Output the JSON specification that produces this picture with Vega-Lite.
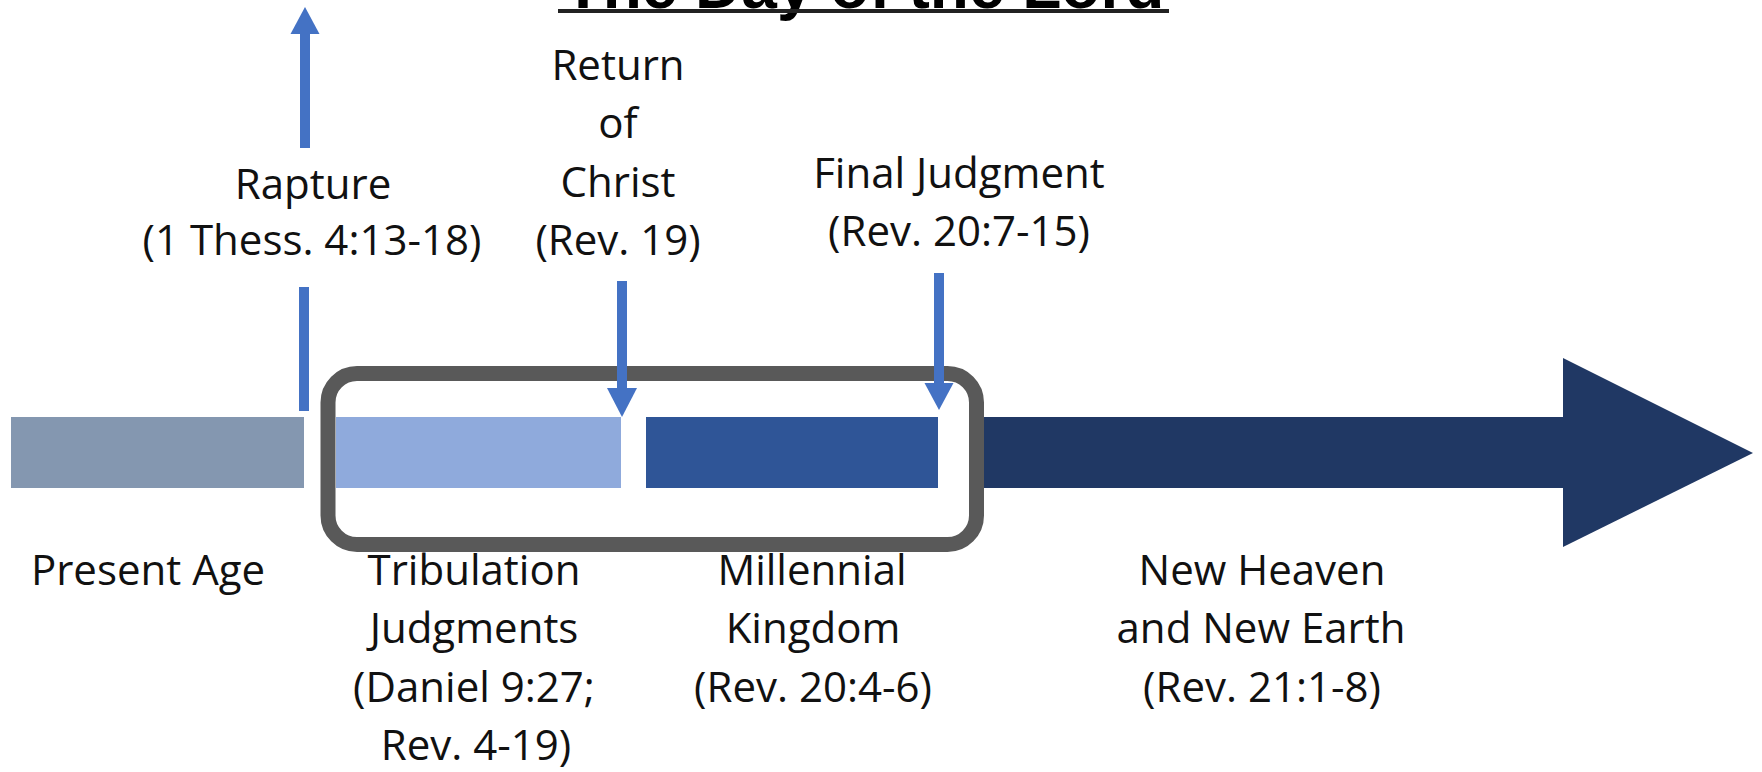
{
  "$schema": "https://vega.github.io/schema/vega-lite/v6.json",
  "width": 1762,
  "height": 772,
  "autosize": {"type": "none"},
  "padding": 0,
  "background": "white",
  "config": {"view": {"stroke": null}},
  "datasets": {
    "segments": [
      {"segment": "Present Age", "start": 11, "end": 304, "top": 417, "bottom": 488},
      {"segment": "Tribulation", "start": 336, "end": 621, "top": 417, "bottom": 488},
      {"segment": "Millennial", "start": 646, "end": 938, "top": 417, "bottom": 488},
      {"segment": "New Heaven", "start": 983, "end": 1564, "top": 417, "bottom": 488}
    ],
    "bighead": [
      {"x": 1563, "top": 358, "bottom": 547},
      {"x": 1753, "top": 453, "bottom": 453}
    ],
    "frame": [
      {"x1": 328, "x2": 976.5, "y1": 373.5, "y2": 544.5}
    ],
    "shafts": [
      {"event": "Rapture", "x": 305, "y1": 33, "y2": 148},
      {"event": "Rapture", "x": 304, "y1": 287, "y2": 411},
      {"event": "Return", "x": 622, "y1": 281, "y2": 390},
      {"event": "Final", "x": 939, "y1": 273, "y2": 385}
    ],
    "heads": [
      {"event": "Rapture", "y": 7, "left": 305, "right": 305},
      {"event": "Rapture", "y": 34, "left": 290.5, "right": 319.5},
      {"event": "Return", "y": 388, "left": 607, "right": 637},
      {"event": "Return", "y": 417, "left": 622, "right": 622},
      {"event": "Final", "y": 383, "left": 924.5, "right": 953.5},
      {"event": "Final", "y": 410, "left": 939, "right": 939}
    ],
    "labels": [
      {"text": "Rapture", "x": 313, "y": 199},
      {"text": "(1 Thess. 4:13-18)", "x": 312, "y": 255},
      {"text": "Return", "x": 618, "y": 80},
      {"text": "of", "x": 618, "y": 138},
      {"text": "Christ", "x": 618, "y": 197},
      {"text": "(Rev. 19)", "x": 618, "y": 255},
      {"text": "Final Judgment", "x": 959, "y": 188},
      {"text": "(Rev. 20:7-15)", "x": 959, "y": 246},
      {"text": "Present Age", "x": 148, "y": 585},
      {"text": "Tribulation", "x": 474, "y": 585},
      {"text": "Judgments", "x": 474, "y": 643},
      {"text": "(Daniel 9:27;", "x": 474, "y": 702},
      {"text": "Rev. 4-19)", "x": 476, "y": 760},
      {"text": "Millennial", "x": 812, "y": 585},
      {"text": "Kingdom", "x": 813, "y": 643},
      {"text": "(Rev. 20:4-6)", "x": 813, "y": 702},
      {"text": "New Heaven", "x": 1262, "y": 585},
      {"text": "and New Earth", "x": 1261, "y": 643},
      {"text": "(Rev. 21:1-8)", "x": 1262, "y": 702}
    ],
    "title": [
      {"text": "The Day of the Lord", "x": 864, "y": 8, "x1": 558, "x2": 1169, "uy": 11}
    ]
  },
  "layer": [
    {
      "data": {"name": "segments"},
      "mark": {"type": "rect"},
      "encoding": {
        "x": {"field": "start", "type": "quantitative", "scale": {"domain": [0, 1762], "nice": false, "zero": false}, "axis": null},
        "x2": {"field": "end"},
        "y": {"field": "top", "type": "quantitative", "scale": {"domain": [0, 772], "nice": false, "zero": false, "reverse": true}, "axis": null},
        "y2": {"field": "bottom"},
        "color": {
          "field": "segment", "type": "nominal", "legend": null,
          "scale": {"domain": ["Present Age", "Tribulation", "Millennial", "New Heaven"], "range": ["#8497B0", "#8FAADC", "#2F5597", "#203864"]}
        }
      }
    },
    {
      "data": {"name": "bighead"},
      "mark": {"type": "area", "color": "#203864", "interpolate": "linear"},
      "encoding": {
        "x": {"field": "x", "type": "quantitative", "axis": null},
        "y": {"field": "top", "type": "quantitative", "axis": null},
        "y2": {"field": "bottom"}
      }
    },
    {
      "data": {"name": "frame"},
      "mark": {"type": "rect", "filled": false, "stroke": "#595959", "strokeWidth": 15, "cornerRadius": 29},
      "encoding": {
        "x": {"field": "x1", "type": "quantitative", "axis": null},
        "x2": {"field": "x2"},
        "y": {"field": "y1", "type": "quantitative", "axis": null},
        "y2": {"field": "y2"}
      }
    },
    {
      "data": {"name": "shafts"},
      "mark": {"type": "rule", "color": "#4472C4", "strokeWidth": 10},
      "encoding": {
        "x": {"field": "x", "type": "quantitative", "axis": null},
        "y": {"field": "y1", "type": "quantitative", "axis": null},
        "y2": {"field": "y2"}
      }
    },
    {
      "data": {"name": "heads"},
      "mark": {"type": "area", "color": "#4472C4", "interpolate": "linear"},
      "encoding": {
        "y": {"field": "y", "type": "quantitative", "axis": null},
        "x": {"field": "left", "type": "quantitative", "axis": null},
        "x2": {"field": "right"},
        "detail": {"field": "event", "type": "nominal"}
      }
    },
    {
      "data": {"name": "labels"},
      "mark": {"type": "text", "font": "Open Sans", "fontSize": 42, "align": "center", "baseline": "alphabetic", "color": "#111111"},
      "encoding": {
        "x": {"field": "x", "type": "quantitative", "axis": null},
        "y": {"field": "y", "type": "quantitative", "axis": null},
        "text": {"field": "text"}
      }
    },
    {
      "data": {"name": "title"},
      "mark": {"type": "text", "font": "Liberation Sans", "fontWeight": "bold", "fontSize": 64, "align": "center", "baseline": "alphabetic", "color": "#000000"},
      "encoding": {
        "x": {"field": "x", "type": "quantitative", "axis": null},
        "y": {"field": "y", "type": "quantitative", "axis": null},
        "text": {"field": "text"}
      }
    },
    {
      "data": {"name": "title"},
      "mark": {"type": "rule", "color": "#222222", "strokeWidth": 4},
      "encoding": {
        "x": {"field": "x1", "type": "quantitative", "axis": null},
        "x2": {"field": "x2"},
        "y": {"field": "uy", "type": "quantitative", "axis": null}
      }
    }
  ]
}
